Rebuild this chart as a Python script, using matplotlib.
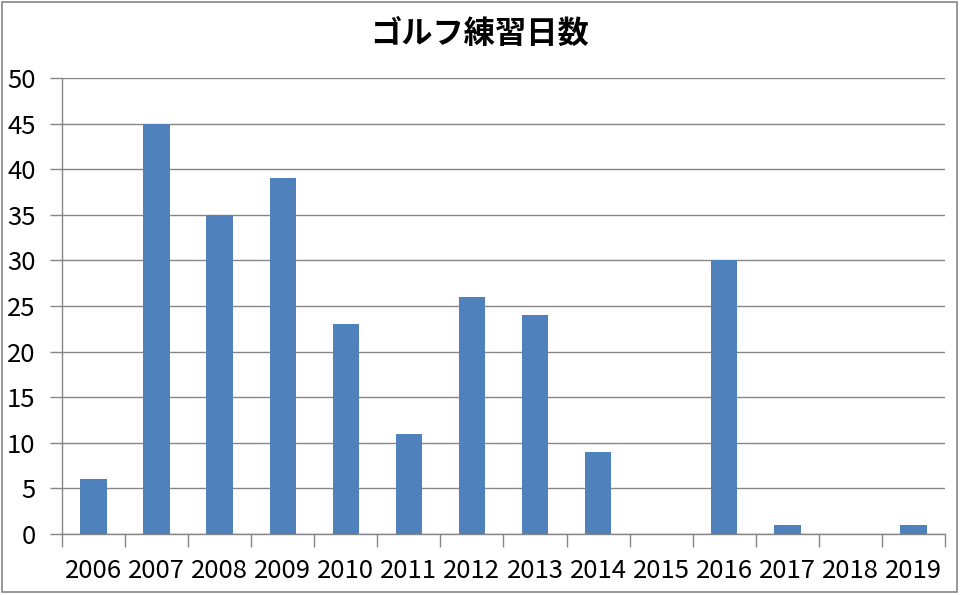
import matplotlib
matplotlib.use("Agg")
import matplotlib.pyplot as plt
import numpy as np
from matplotlib.patches import Rectangle

plt.rcParams['font.family'] = ['Noto Sans CJK JP', 'DejaVu Sans']

years = ["2006", "2007", "2008", "2009", "2010", "2011", "2012",
         "2013", "2014", "2015", "2016", "2017", "2018", "2019"]
days = [6, 45, 35, 39, 23, 11, 26, 24, 9, 0, 30, 1, 0, 1]
title = "ゴルフ練習日数"
yticks = [0, 5, 10, 15, 20, 25, 30, 35, 40, 45, 50]

W, H = 961, 595
fig = plt.figure(figsize=(W / 100, H / 100), dpi=100)
ax = fig.add_axes([62 / W, 1 - 534 / H, (945 - 62) / W, (534 - 78) / H])

x = np.arange(len(years))
ax.bar(x, days, width=0.42, color='#4F81BD', zorder=3)

ax.set_xlim(-0.5, len(years) - 0.5)
ax.set_ylim(0, 50)
ax.set_yticks(yticks)
ax.set_yticklabels([str(v) for v in yticks])
ax.yaxis.grid(True, color='#868686', linewidth=1.0, zorder=0)

ax.set_xticks(x)
ax.set_xticklabels(years)
ax.set_xticks(np.arange(-0.5, len(years), 1.0), minor=True)
ax.tick_params(axis='x', which='major', length=0, pad=17, labelsize=18.5)
ax.tick_params(axis='x', which='minor', length=9, width=1, color='#868686', direction='out')
ax.tick_params(axis='y', length=9, width=1, color='#868686', pad=10, labelsize=18.5)

for s in ['top', 'right']:
    ax.spines[s].set_visible(False)
for s in ['left', 'bottom']:
    ax.spines[s].set_color('#868686')
    ax.spines[s].set_linewidth(1.0)

fig.text(480 / W, 1 - 34 / H, title, ha='center', va='center',
         fontsize=22.5, fontweight='bold')

fig.patches.append(Rectangle((1.5 / W, 1 - 592 / H), (957 - 1.5) / W, (590.5) / H,
                             transform=fig.transFigure, fill=False,
                             edgecolor='#868686', linewidth=1.2))

fig.savefig("out.png", dpi=100)
